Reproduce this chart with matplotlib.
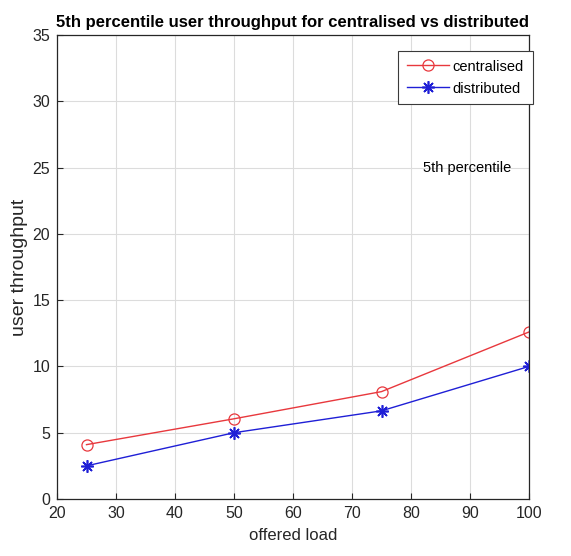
import matplotlib
matplotlib.use('Agg')
import matplotlib.pyplot as plt

plt.rcParams.update({
    'font.family': ['Liberation Sans', 'DejaVu Sans'],
    'font.size': 11,
})

load = [25, 50, 75, 100]
centralised = [4.1, 6.05, 8.1, 12.6]
distributed = [2.5, 5.0, 6.65, 10.0]

fig = plt.figure(figsize=(5.71, 5.56), dpi=100)
ax = fig.add_axes([57 / 571, 1 - 499 / 556, 472 / 571, 464 / 556])

ax.plot(load, centralised, color='#e8383d', lw=1.0, marker='o', ms=8,
        mfc='none', mec='#e8383d', mew=0.9, label='centralised')
ax.plot(load, distributed, color='#1f1fd6', lw=1.0, marker=(8, 2, 0), ms=9,
        mec='#1f1fd6', mew=1.2, label='distributed')

ax.set_xlim(20, 100)
ax.set_ylim(0, 35)
ax.set_xticks(range(20, 101, 10))
ax.set_yticks(range(0, 36, 5))
ax.grid(True, color='#dcdcdc', lw=0.8)
ax.set_axisbelow(True)
ax.tick_params(direction='in', length=4, labelsize=11.5, colors='#262626', pad=5)
for s in ax.spines.values():
    s.set_color('#262626')
    s.set_linewidth(0.9)

ax.set_xlabel('offered load', fontsize=12, color='#262626', labelpad=5)
ax.set_ylabel('user throughput', fontsize=14, color='#262626', labelpad=3)
ax.set_title('5th percentile user throughput for centralised vs distributed',
             fontsize=12, fontweight='bold', pad=6)

ax.text(82, 25, '5th percentile', fontsize=10.5, va='center', ha='left')

leg = ax.legend(loc='upper right', bbox_to_anchor=(1.008, 0.966),
                borderaxespad=0, fontsize=10.5,
                fancybox=False, framealpha=1, edgecolor='#3a3a3a',
                handlelength=2.9, borderpad=0.6, labelspacing=0.55,
                handletextpad=0.25)
leg.get_frame().set_linewidth(0.8)

fig.savefig('out.png', dpi=100)
